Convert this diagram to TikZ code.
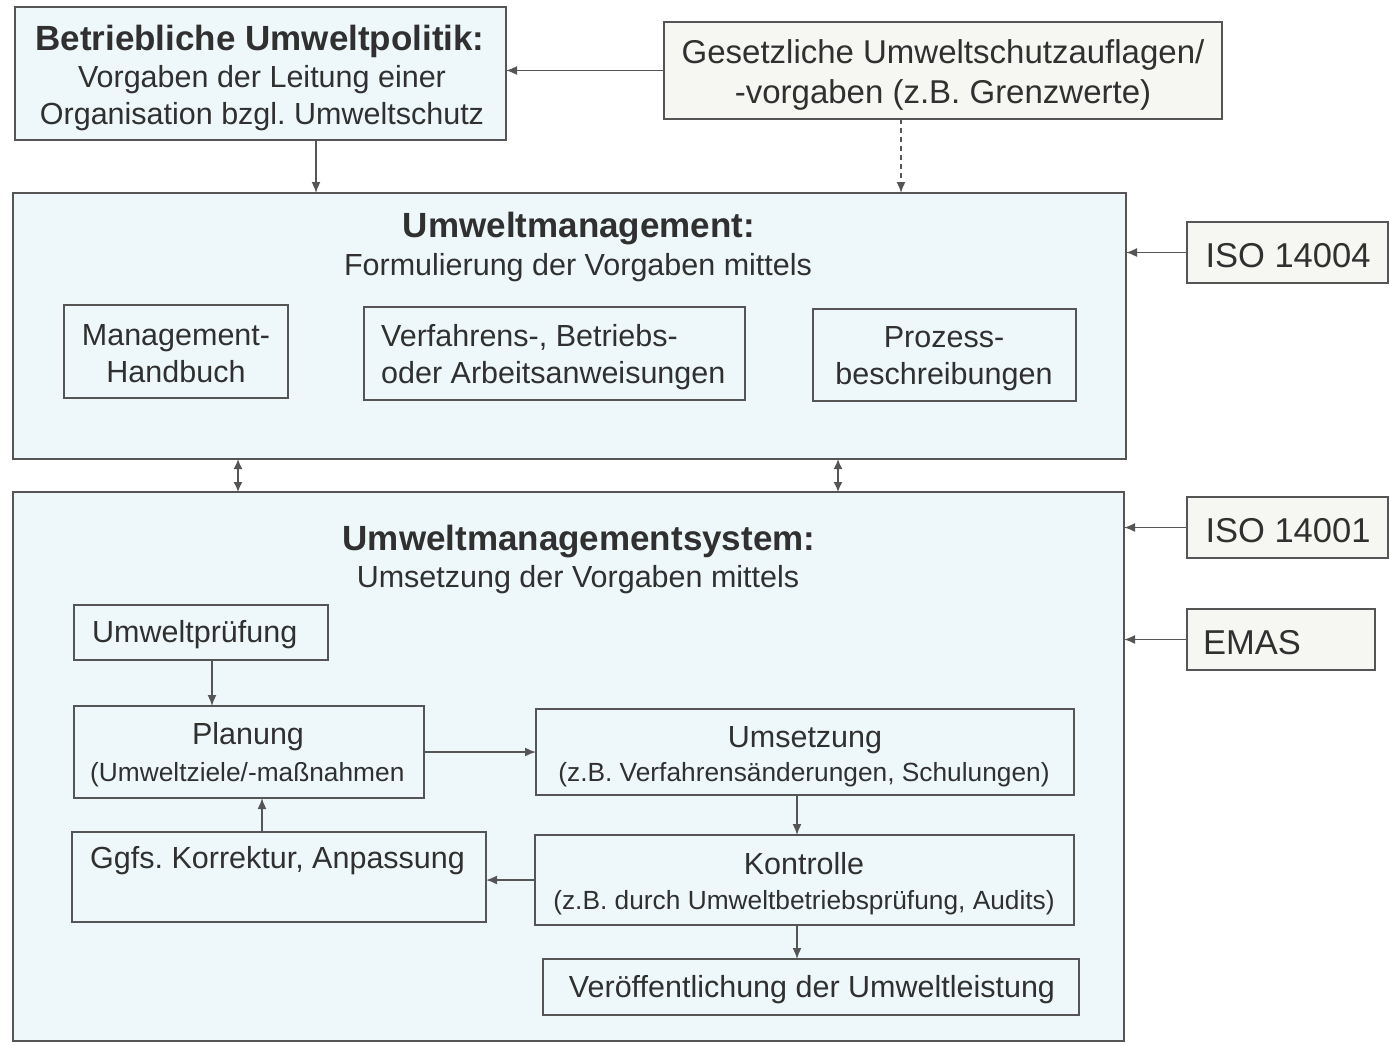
\documentclass[tikz,border=0pt]{standalone}
\usepackage{fontspec}
\setmainfont{Liberation Sans}
\usetikzlibrary{arrows.meta}
\frenchspacing
\definecolor{bg}{HTML}{EEF8FA}
\definecolor{wb}{HTML}{F6F6F3}
\definecolor{ln}{HTML}{555555}
\definecolor{tx}{HTML}{303030}
\newcommand\fr{\fontsize{30.5}{37}\selectfont}
\newcommand\fsm{\fontsize{26.3}{33}\selectfont}
\newcommand\fbd{\fontsize{35}{40}\selectfont\bfseries}
\newcommand\fgs{\fontsize{33}{40}\selectfont}
\newcommand\fis{\fontsize{34.5}{40}\selectfont}
\newcommand\bx[6]{\node[#2,minimum width={#5-#3},minimum height={#6-#4}] (#1) at ({(#3+#5)/2},{(#4+#6)/2}) {};}
\begin{document}
\begin{tikzpicture}[x=1pt,y=-1pt,
 box/.style={draw=ln,line width=1.8pt,inner sep=0pt,outer sep=0pt,rectangle},
 cbox/.style={box,fill=bg},
 wbox/.style={box,fill=wb},
 ibox/.style={box},
 txt/.style={text=tx,inner sep=0pt,align=center,font=\fr},
 arr/.style={draw=ln,line width=1.6pt,-{Latex[length=11pt,width=9pt]}},
 darr/.style={draw=ln,line width=1.6pt,{Latex[length=10pt,width=9pt]}-{Latex[length=10pt,width=9pt]}},
]
\useasboundingbox (0,0) rectangle (1390,1045);
\fill[white] (0,0) rectangle (1390,1045);
% boxes
\bx{pol}{cbox}{15}{7}{506}{140}
\bx{ges}{wbox}{664}{22}{1222}{119}
\bx{um}{cbox}{13}{193}{1126}{459}
\bx{iso4}{wbox}{1187}{222}{1388}{283}
\bx{mh}{ibox}{64}{305}{288}{398}
\bx{vf}{ibox}{364}{307}{745}{400}
\bx{pz}{ibox}{813}{309}{1076}{401}
\bx{ums}{cbox}{13}{492}{1124}{1041}
\bx{iso1}{wbox}{1187}{497}{1388}{558}
\bx{emas}{wbox}{1187}{609}{1375}{670}
\bx{up}{ibox}{74}{605}{328}{660}
\bx{pl}{ibox}{74}{706}{424}{798}
\bx{us}{ibox}{536}{709}{1074}{795}
\bx{gk}{ibox}{72}{832}{486}{922}
\bx{ko}{ibox}{535}{835}{1074}{925}
\bx{vo}{ibox}{543}{959}{1079}{1015}
% texts
\node[txt,font=\fbd] (t1) at (260,41) {Betriebliche Umweltpolitik:};
\node[txt] (t2) at (262,98) {Vorgaben der Leitung einer\\Organisation bzgl. Umweltschutz};
\node[txt,font=\fgs] (t3) at (943,75) {Gesetzliche Umweltschutzauflagen/\\-vorgaben (z.B. Grenzwerte)};
\node[txt,font=\fbd] (t4) at (579,229) {Umweltmanagement:};
\node[txt] (t5) at (578,268) {Formulierung der Vorgaben mittels};
\node[txt] (t6) at (176,354) {Management-\\Handbuch};
\node[txt,align=left,anchor=west] (t7) at (381,357) {Verfahrens-, Betriebs-\\oder Arbeitsanweisungen};
\node[txt] (t8) at (944,359) {Prozess-\\beschreibungen};
\node[txt,font=\fis] (t9) at (1288,256) {ISO 14004};
\node[txt,font=\fbd] (t10) at (579,542) {Umweltmanagementsystem:};
\node[txt] (t11) at (578,580) {Umsetzung der Vorgaben mittels};
\node[txt,font=\fis] (t12) at (1288,531) {ISO 14001};
\node[txt,font=\fis,anchor=west] (t13) at (1203,643) {EMAS};
\node[txt,anchor=west] (t14) at (92,635) {Umweltprüfung};
\node[txt] (t15) at (248,737) {Planung};
\node[txt,font=\fsm,anchor=west] (t16) at (90,775) {(Umweltziele/-maßnahmen};
\node[txt] (t17) at (805,740) {Umsetzung};
\node[txt,font=\fsm] (t18) at (804,775) {(z.B. Verfahrensänderungen, Schulungen)};
\node[txt,anchor=west] (t19) at (90,861) {Ggfs. Korrektur, Anpassung};
\node[txt] (t20) at (804,864) {Kontrolle};
\node[txt,font=\fsm] (t21) at (804,903) {(z.B. durch Umweltbetriebsprüfung, Audits)};
\node[txt] (t22) at (812,990) {Veröffentlichung der Umweltleistung};
% connectors
\coordinate (c1) at (316,0);
\coordinate (c2) at (901,0);
\coordinate (c3) at (238,0);
\coordinate (c4) at (838,0);
\coordinate (c5) at (212,0);
\coordinate (c6) at (797,0);
\coordinate (c7) at (262,0);
\draw[arr] (ges.west) -- (ges.west -| pol.east);
\draw[arr] (c1 |- pol.south) -- (c1 |- um.north);
\draw[arr,dash pattern=on 5pt off 4pt] (c2 |- ges.south) -- (c2 |- um.north);
\draw[arr] (iso4.west) -- (iso4.west -| um.east);
\draw[darr] (c3 |- um.south) -- (c3 |- ums.north);
\draw[darr] (c4 |- um.south) -- (c4 |- ums.north);
\draw[arr] (iso1.west) -- (iso1.west -| ums.east);
\draw[arr] (emas.west) -- (emas.west -| ums.east);
\draw[arr] (c5 |- up.south) -- (c5 |- pl.north);
\draw[arr] (pl.east) -- (pl.east -| us.west);
\draw[arr] (c6 |- us.south) -- (c6 |- ko.north);
\draw[arr] (ko.west) -- (ko.west -| gk.east);
\draw[arr] (c7 |- gk.north) -- (c7 |- pl.south);
\draw[arr] (c6 |- ko.south) -- (c6 |- vo.north);
\end{tikzpicture}
\end{document}
